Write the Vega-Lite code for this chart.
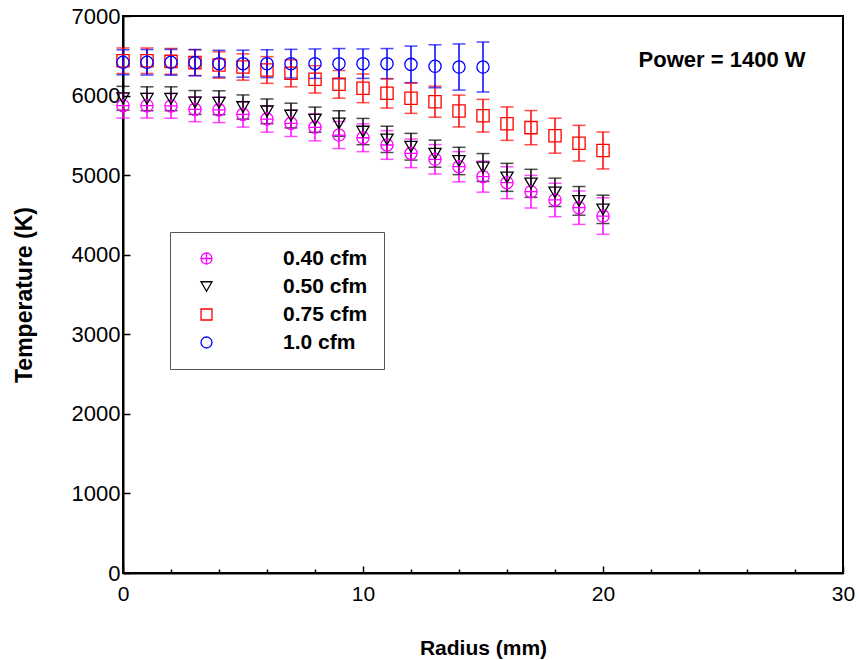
{
  "$schema": "https://vega.github.io/schema/vega-lite/v6.json",
  "width": 720,
  "height": 557,
  "autosize": {"type": "none"},
  "padding": {"left": 123, "top": 16, "right": 17, "bottom": 87},
  "background": "white",
  "config": {
    "font": "Liberation Sans",
    "view": {"stroke": "black", "strokeWidth": 2},
    "axis": {"grid": false, "domainColor": "black", "domainWidth": 2, "tickColor": "black", "tickWidth": 1.5, "labelColor": "black", "titleColor": "black", "titleFontWeight": "bold"},
    "legend": {"orient": "none", "legendX": 47, "legendY": 216, "title": null, "strokeColor": "#555", "fillColor": "white", "padding": 16, "symbolOffset": 10, "labelOffset": 66, "labelFontSize": 21, "labelFontWeight": "bold", "labelColor": "black", "rowPadding": 6, "symbolSize": 120, "symbolStrokeWidth": 1.3, "symbolOpacity": 1}
  },
  "datasets": {
    "pts": [
      {"series": "0.40 cfm", "r": 0, "T": 5873, "err": 155},
      {"series": "0.40 cfm", "r": 1, "T": 5873, "err": 155},
      {"series": "0.40 cfm", "r": 2, "T": 5870, "err": 155},
      {"series": "0.40 cfm", "r": 3, "T": 5827, "err": 155},
      {"series": "0.40 cfm", "r": 4, "T": 5820, "err": 160},
      {"series": "0.40 cfm", "r": 5, "T": 5764, "err": 160},
      {"series": "0.40 cfm", "r": 6, "T": 5705, "err": 165},
      {"series": "0.40 cfm", "r": 7, "T": 5651, "err": 165},
      {"series": "0.40 cfm", "r": 8, "T": 5601, "err": 170},
      {"series": "0.40 cfm", "r": 9, "T": 5504, "err": 170},
      {"series": "0.40 cfm", "r": 10, "T": 5470, "err": 175},
      {"series": "0.40 cfm", "r": 11, "T": 5379, "err": 180},
      {"series": "0.40 cfm", "r": 12, "T": 5274, "err": 180},
      {"series": "0.40 cfm", "r": 13, "T": 5199, "err": 185},
      {"series": "0.40 cfm", "r": 14, "T": 5106, "err": 190},
      {"series": "0.40 cfm", "r": 15, "T": 4981, "err": 195},
      {"series": "0.40 cfm", "r": 16, "T": 4905, "err": 200},
      {"series": "0.40 cfm", "r": 17, "T": 4792, "err": 205},
      {"series": "0.40 cfm", "r": 18, "T": 4688, "err": 210},
      {"series": "0.40 cfm", "r": 19, "T": 4591, "err": 210},
      {"series": "0.40 cfm", "r": 20, "T": 4486, "err": 230},
      {"series": "0.50 cfm", "r": 0, "T": 5966, "err": 150},
      {"series": "0.50 cfm", "r": 1, "T": 5960, "err": 150},
      {"series": "0.50 cfm", "r": 2, "T": 5960, "err": 150},
      {"series": "0.50 cfm", "r": 3, "T": 5913, "err": 150},
      {"series": "0.50 cfm", "r": 4, "T": 5910, "err": 150},
      {"series": "0.50 cfm", "r": 5, "T": 5856, "err": 152},
      {"series": "0.50 cfm", "r": 6, "T": 5802, "err": 155},
      {"series": "0.50 cfm", "r": 7, "T": 5749, "err": 155},
      {"series": "0.50 cfm", "r": 8, "T": 5697, "err": 158},
      {"series": "0.50 cfm", "r": 9, "T": 5649, "err": 160},
      {"series": "0.50 cfm", "r": 10, "T": 5548, "err": 165},
      {"series": "0.50 cfm", "r": 11, "T": 5450, "err": 165},
      {"series": "0.50 cfm", "r": 12, "T": 5357, "err": 168},
      {"series": "0.50 cfm", "r": 13, "T": 5270, "err": 170},
      {"series": "0.50 cfm", "r": 14, "T": 5178, "err": 172},
      {"series": "0.50 cfm", "r": 15, "T": 5096, "err": 175},
      {"series": "0.50 cfm", "r": 16, "T": 4972, "err": 176},
      {"series": "0.50 cfm", "r": 17, "T": 4897, "err": 176},
      {"series": "0.50 cfm", "r": 18, "T": 4784, "err": 178},
      {"series": "0.50 cfm", "r": 19, "T": 4677, "err": 180},
      {"series": "0.50 cfm", "r": 20, "T": 4570, "err": 178},
      {"series": "0.75 cfm", "r": 0, "T": 6438, "err": 160},
      {"series": "0.75 cfm", "r": 1, "T": 6438, "err": 160},
      {"series": "0.75 cfm", "r": 2, "T": 6430, "err": 162},
      {"series": "0.75 cfm", "r": 3, "T": 6414, "err": 162},
      {"series": "0.75 cfm", "r": 4, "T": 6384, "err": 165},
      {"series": "0.75 cfm", "r": 5, "T": 6359, "err": 165},
      {"series": "0.75 cfm", "r": 6, "T": 6321, "err": 168},
      {"series": "0.75 cfm", "r": 7, "T": 6280, "err": 170},
      {"series": "0.75 cfm", "r": 8, "T": 6204, "err": 172},
      {"series": "0.75 cfm", "r": 9, "T": 6141, "err": 174},
      {"series": "0.75 cfm", "r": 10, "T": 6091, "err": 180},
      {"series": "0.75 cfm", "r": 11, "T": 6028, "err": 185},
      {"series": "0.75 cfm", "r": 12, "T": 5966, "err": 190},
      {"series": "0.75 cfm", "r": 13, "T": 5923, "err": 195},
      {"series": "0.75 cfm", "r": 14, "T": 5806, "err": 200},
      {"series": "0.75 cfm", "r": 15, "T": 5747, "err": 205},
      {"series": "0.75 cfm", "r": 16, "T": 5647, "err": 210},
      {"series": "0.75 cfm", "r": 17, "T": 5597, "err": 215},
      {"series": "0.75 cfm", "r": 18, "T": 5496, "err": 220},
      {"series": "0.75 cfm", "r": 19, "T": 5402, "err": 224},
      {"series": "0.75 cfm", "r": 20, "T": 5310, "err": 232},
      {"series": "1.0 cfm", "r": 0, "T": 6418, "err": 157},
      {"series": "1.0 cfm", "r": 1, "T": 6418, "err": 160},
      {"series": "1.0 cfm", "r": 2, "T": 6418, "err": 162},
      {"series": "1.0 cfm", "r": 3, "T": 6414, "err": 165},
      {"series": "1.0 cfm", "r": 4, "T": 6401, "err": 168},
      {"series": "1.0 cfm", "r": 5, "T": 6401, "err": 170},
      {"series": "1.0 cfm", "r": 6, "T": 6401, "err": 175},
      {"series": "1.0 cfm", "r": 7, "T": 6401, "err": 180},
      {"series": "1.0 cfm", "r": 8, "T": 6401, "err": 185},
      {"series": "1.0 cfm", "r": 9, "T": 6401, "err": 190},
      {"series": "1.0 cfm", "r": 10, "T": 6401, "err": 185},
      {"series": "1.0 cfm", "r": 11, "T": 6401, "err": 190},
      {"series": "1.0 cfm", "r": 12, "T": 6392, "err": 230},
      {"series": "1.0 cfm", "r": 13, "T": 6368, "err": 270},
      {"series": "1.0 cfm", "r": 14, "T": 6359, "err": 290},
      {"series": "1.0 cfm", "r": 15, "T": 6359, "err": 314}
    ]
  },
  "data": {"name": "pts"},
  "layer": [
    {
      "mark": {"type": "errorbar", "ticks": {"size": 13}, "thickness": 1.5},
      "encoding": {
        "x": {"field": "r", "type": "quantitative", "scale": {"domain": [0, 30], "nice": false},
          "axis": {"title": "Radius (mm)", "values": [0,2,4,6,8,10,12,14,16,18,20,22,24,26,28,30],
            "labelExpr": "datum.value % 10 === 0 ? datum.label : ''",
            "tickSize": {"condition": {"test": "datum.value % 10 === 0", "value": -7}, "value": -4},
            "labelPadding": 17, "labelFontSize": 21, "titleFontSize": 21, "titlePadding": 30, "labelFlush": false, "labelOverlap": false}},
        "y": {"field": "T", "type": "quantitative", "scale": {"domain": [0, 7000], "nice": false},
          "axis": {"title": "Temperature (K)", "values": [0,500,1000,1500,2000,2500,3000,3500,4000,4500,5000,5500,6000,6500,7000],
            "labelExpr": "datum.value % 1000 === 0 ? datum.label : ''",
            "tickSize": {"condition": {"test": "datum.value % 1000 === 0", "value": -7}, "value": -4},
            "format": "d", "labelPadding": 10, "labelFontSize": 22, "titleFontSize": 23, "titlePadding": 35, "labelOverlap": false}},
        "yError": {"field": "err"},
        "color": {
          "condition": [
            {"test": "datum.series === '0.40 cfm'", "value": "#ff00ff"},
            {"test": "datum.series === '0.50 cfm'", "value": "#000000"},
            {"test": "datum.series === '0.75 cfm'", "value": "#ff0000"}
          ],
          "value": "#0000ff"}
      }
    },
    {
      "mark": {"type": "point", "filled": false, "strokeWidth": 1.3, "size": 150, "opacity": 1},
      "encoding": {
        "x": {"field": "r", "type": "quantitative"},
        "y": {"field": "T", "type": "quantitative"},
        "color": {"field": "series", "type": "nominal",
          "scale": {"domain": ["0.40 cfm", "0.50 cfm", "0.75 cfm", "1.0 cfm"], "range": ["#ff00ff", "#000000", "#ff0000", "#0000ff"]}},
        "shape": {"field": "series", "type": "nominal",
          "scale": {"domain": ["0.40 cfm", "0.50 cfm", "0.75 cfm", "1.0 cfm"],
            "range": ["M-1,0A1,1,0,1,1,1,0A1,1,0,1,1,-1,0ZM-1,0L1,0M0,-1L0,1", "triangle-down", "square", "circle"]}}
      }
    },
    {
      "data": {"values": [{"label": "Power = 1400 W"}]},
      "mark": {"type": "text", "fontSize": 22, "fontWeight": "bold", "color": "black", "align": "center", "baseline": "middle"},
      "encoding": {
        "x": {"datum": 24.96, "type": "quantitative"},
        "y": {"datum": 6447, "type": "quantitative"},
        "text": {"field": "label"}
      }
    }
  ]
}
